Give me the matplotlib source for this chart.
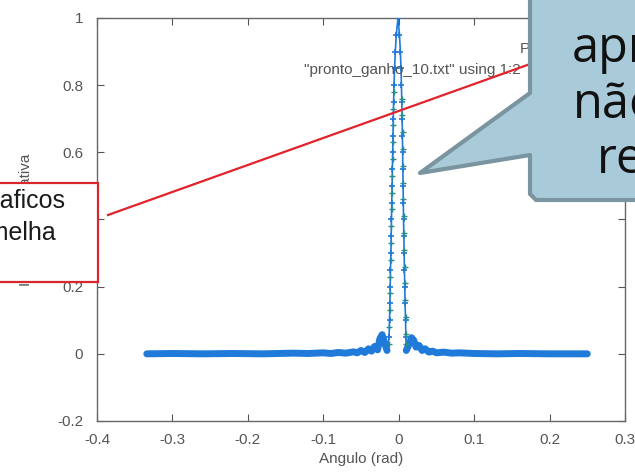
import matplotlib
matplotlib.use("Agg")
import matplotlib.pyplot as plt
from matplotlib.patches import Polygon, Rectangle
from matplotlib.lines import Line2D

#---------------------------------------#
# DATA
#---------------------------------------#
# main series (blue), split in three parts: left floor + side lobes,
# the narrow main lobe, right floor + side lobes
floor_left_x = [-0.334, -0.30, -0.26, -0.22, -0.18, -0.14, -0.12, -0.10, -0.09, -0.08,
                -0.07, -0.06, -0.055, -0.05, -0.045, -0.04, -0.036, -0.032, -0.028,
                -0.025, -0.022, -0.019, -0.0155]
floor_left_y = [0.000, 0.001, 0.000, 0.001, 0.000, 0.002, 0.001, 0.003, 0.001, 0.004,
                0.002, 0.006, 0.003, 0.010, 0.004, 0.015, 0.008, 0.022, 0.012,
                0.045, 0.057, 0.035, 0.010]

lobe_x = [-0.0155, -0.0128, -0.0122, -0.0117, -0.0113, -0.0109, -0.0104, -0.0100,
          -0.0096, -0.0092, -0.0088, -0.0084, -0.0080, -0.0076, -0.0072, -0.0068,
          -0.0062, -0.0055, -0.0045, -0.0032, -0.0010,
          0.0010, 0.0022, 0.0030, 0.0036, 0.0041, 0.0045, 0.0049, 0.0052, 0.0055,
          0.0058, 0.0061, 0.0064, 0.0068, 0.0072, 0.0076, 0.0080, 0.0085, 0.0090,
          0.0095, 0.0100]
lobe_y = [0.010, 0.05, 0.10, 0.15, 0.20, 0.25, 0.30, 0.35,
          0.40, 0.45, 0.50, 0.55, 0.60, 0.65, 0.70, 0.75,
          0.80, 0.85, 0.90, 0.95, 1.00,
          0.95, 0.90, 0.85, 0.80, 0.75, 0.70, 0.65, 0.60, 0.55,
          0.50, 0.45, 0.40, 0.35, 0.30, 0.25, 0.20, 0.15, 0.10,
          0.05, 0.01]

floor_right_x = [0.0100, 0.014, 0.017, 0.020, 0.023, 0.027, 0.031, 0.035, 0.040, 0.045,
                 0.050, 0.060, 0.070, 0.080, 0.100, 0.130, 0.160, 0.200, 0.250]
floor_right_y = [0.010, 0.030, 0.048, 0.040, 0.020, 0.025, 0.010, 0.015, 0.005, 0.008,
                 0.003, 0.005, 0.002, 0.003, 0.001, 0.000, 0.001, 0.000, 0.000]

# second series (teal): only visible along the main lobe
teal_x = [-0.0130, -0.0124, -0.0119, -0.0114, -0.0110, -0.0106, -0.0102, -0.0098,
          -0.0094, -0.0090, -0.0086, -0.0082, -0.0078, -0.0074, -0.0070, -0.0066,
          0.0044, 0.0048, 0.0051, 0.0054, 0.0057, 0.0060, 0.0063, 0.0066,
          0.0070, 0.0074, 0.0078, 0.0082, 0.0087, 0.0092, 0.0097, 0.0101]
teal_y = [0.03, 0.08, 0.13, 0.18, 0.23, 0.28, 0.33, 0.38,
          0.43, 0.48, 0.53, 0.58, 0.63, 0.68, 0.73, 0.78,
          0.76, 0.71, 0.66, 0.61, 0.56, 0.51, 0.46, 0.41,
          0.36, 0.31, 0.26, 0.21, 0.16, 0.11, 0.06, 0.03]

x_ticks = [-0.4, -0.3, -0.2, -0.1, 0.0, 0.1, 0.2, 0.3]
x_tick_labels = ["-0.4", "-0.3", "-0.2", "-0.1", "0", "0.1", "0.2", "0.3"]
y_ticks = [-0.2, 0.0, 0.2, 0.4, 0.6, 0.8, 1.0]
y_tick_labels = ["-0.2", "0", "0.2", "0.4", "0.6", "0.8", "1"]
#---------------------------------------#

W, H = 635, 476
TXT = "#555555"
BLUE = "#1f7ad9"
FS = 11


def px(x, y):
    # screenshot pixel (top-left origin) -> figure fraction
    return x / W, 1 - y / H


fig = plt.figure(figsize=(W / 100, H / 100), dpi=100)
ax = fig.add_axes([97 / W, 1 - 421 / H, (625 - 97) / W, (421 - 18) / H])

# floor parts look like a thick band, the lobe like thin strands of crosses
for fx, fy in [(floor_left_x, floor_left_y), (floor_right_x, floor_right_y)]:
    ax.plot(fx, fy, color=BLUE, lw=5, solid_capstyle="round",
            solid_joinstyle="round", zorder=3)
ax.plot(lobe_x, lobe_y, color=BLUE, lw=1.2, marker="+", ms=5, mew=1.2, zorder=3)
ax.plot(teal_x, teal_y, color="#2a8c8c", lw=0, marker="+", ms=5, mew=1.0, zorder=4)

ax.set_xlim(-0.4, 0.3)
ax.set_ylim(-0.2, 1.0)
ax.set_xticks(x_ticks, x_tick_labels)
ax.set_yticks(y_ticks, y_tick_labels)
ax.tick_params(direction="in", length=5, width=0.8, color="#555555",
               top=True, right=True, labelsize=FS, labelcolor=TXT,
               labelfontfamily="Liberation Sans")
ax.tick_params(axis="y", pad=10)
ax.tick_params(axis="x", pad=9)
for s in ax.spines.values():
    s.set_color("#666666")
    s.set_linewidth(1.0)

ax.set_xlabel("Angulo (rad)", fontsize=FS, color=TXT, family="Liberation Sans",
              labelpad=3)
ax.set_ylabel("Intensidade relativa", fontsize=FS, color=TXT, family="Liberation Sans")
ax.yaxis.set_label_coords(-0.122, 0.5)

# key texts of the gnuplot legend (mostly hidden by the callout)
ax.text(0.160, 0.907, "P(x)", fontsize=FS, color=TXT, family="Liberation Sans",
        va="center", ha="left")
ax.text(-0.126, 0.846, '"pronto_ganho_10.txt" using 1:2', fontsize=FS, color=TXT,
        family="Liberation Sans", va="center", ha="left")

# red line overlay
x0, y0 = px(108, 215)
x1, y1 = px(600, 39)
fig.add_artist(Line2D([x0, x1], [y0, y1], color="#e3222b", lw=1.6, zorder=5))

# red box with note text (cut by the left edge)
bx, by = px(-10, 282)
bw = (98 + 10) / W
bh = (282 - 183) / H
fig.add_artist(Rectangle((bx, by), bw, bh, facecolor="white", edgecolor="#d7262e",
                         lw=1.6, zorder=5))
tx, ty = px(66, 208)
fig.text(tx, ty, "Graficos", fontsize=18, family="Liberation Sans", color="#1a1a1a",
         ha="right", va="baseline", zorder=6)
tx, ty = px(57, 240)
fig.text(tx, ty, "vermelha", fontsize=18, family="Liberation Sans", color="#1a1a1a",
         ha="right", va="baseline", zorder=6)

# speech-bubble callout (cut by the top/right edges)
pts = [(530, -20), (530, 93), (420, 173), (530, 155), (530, 194), (536, 200),
       (660, 200), (660, -20)]
fig.add_artist(Polygon([px(x, y) for x, y in pts], closed=True, facecolor="#a9cbd9",
                       edgecolor="#7a959f", lw=3, joinstyle="round", zorder=7))
for word, xx, yy in [("aproximação", 572, 62), ("não", 573, 118), ("real", 597, 173)]:
    tx, ty = px(xx, yy)
    fig.text(tx, ty, word, fontsize=35, family="Open Sans", color="#111111",
             ha="left", va="baseline", zorder=8)

fig.savefig("out.png", dpi=100)
